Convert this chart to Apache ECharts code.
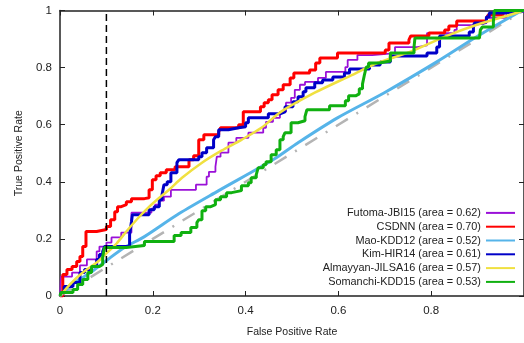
<!DOCTYPE html>
<html><head><meta charset="utf-8">
<script src="https://cdn.jsdelivr.net/npm/echarts@6/dist/echarts.min.js"></script>
<style>html,body{margin:0;padding:0;background:#fff}#c{width:524px;height:343px}</style>
</head><body><div id="c"></div>
<script>
// Futoma-JBI15 (purple) step risers
const futomaFpr = [0, 0.002, 0.026, 0.043, 0.058, 0.079, 0.085, 0.100, 0.111, 0.132, 0.154, 0.197, 0.205, 0.214, 0.224, 0.239, 0.293, 0.316, 0.321, 0.335, 0.338, 0.346, 0.363, 0.380, 0.406, 0.438, 0.444, 0.459, 0.474, 0.487, 0.498, 0.506, 0.517, 0.528, 0.556, 0.573, 0.615, 0.620, 0.641, 0.673, 0.722, 0.770, 0.791, 0.850, 0.855, 0.891, 0.919, 0.962, 1];
const futomaTpr = [0, 0.068, 0.082, 0.107, 0.128, 0.156, 0.173, 0.187, 0.205, 0.222, 0.292, 0.306, 0.320, 0.334, 0.348, 0.372, 0.390, 0.418, 0.435, 0.453, 0.488, 0.502, 0.537, 0.554, 0.572, 0.589, 0.610, 0.624, 0.645, 0.677, 0.694, 0.722, 0.740, 0.750, 0.764, 0.785, 0.802, 0.827, 0.844, 0.851, 0.872, 0.878, 0.921, 0.932, 0.949, 0.956, 0.974, 0.995, 1];
// CSDNN (red)
const csdnnFpr = [0, 0.006, 0.015, 0.026, 0.036, 0.043, 0.049, 0.056, 0.079, 0.100, 0.109, 0.118, 0.124, 0.132, 0.143, 0.154, 0.182, 0.192, 0.199, 0.207, 0.216, 0.229, 0.248, 0.278, 0.288, 0.299, 0.310, 0.342, 0.346, 0.385, 0.395, 0.432, 0.440, 0.449, 0.457, 0.470, 0.481, 0.496, 0.504, 0.538, 0.551, 0.560, 0.598, 0.701, 0.709, 0.752, 0.756, 0.795, 0.829, 0.838, 0.855, 0.919, 0.923, 0.955, 0.962, 1];
const csdnnTpr = [0, 0.075, 0.093, 0.103, 0.121, 0.138, 0.173, 0.226, 0.233, 0.243, 0.267, 0.295, 0.313, 0.320, 0.330, 0.341, 0.344, 0.372, 0.407, 0.421, 0.432, 0.442, 0.453, 0.477, 0.491, 0.547, 0.565, 0.575, 0.589, 0.600, 0.645, 0.663, 0.677, 0.687, 0.705, 0.722, 0.740, 0.764, 0.781, 0.792, 0.816, 0.834, 0.851, 0.862, 0.886, 0.897, 0.911, 0.921, 0.932, 0.946, 0.963, 0.974, 0.984, 0.995, 1, 1];
// Mao-KDD12 (light blue)
const maoFpr = [0, 0.032, 0.066, 0.103, 0.139, 0.182, 0.256, 0.342, 0.459, 0.513, 0.598, 0.699, 0.812, 0.897, 0.989, 1];
const maoTpr = [0, 0.047, 0.082, 0.128, 0.170, 0.208, 0.288, 0.369, 0.477, 0.537, 0.624, 0.712, 0.820, 0.907, 0.994, 1];
// Kim-HIR14 (dark blue)
const kimFpr = [0, 0.004, 0.009, 0.028, 0.043, 0.053, 0.068, 0.079, 0.085, 0.092, 0.096, 0.150, 0.154, 0.156, 0.192, 0.203, 0.214, 0.220, 0.224, 0.231, 0.239, 0.252, 0.256, 0.299, 0.306, 0.316, 0.331, 0.335, 0.342, 0.363, 0.385, 0.400, 0.406, 0.449, 0.474, 0.485, 0.502, 0.513, 0.524, 0.530, 0.549, 0.566, 0.588, 0.613, 0.624, 0.667, 0.690, 0.712, 0.791, 0.812, 0.818, 0.882, 0.891, 0.893, 0.912, 0.919, 0.925, 0.955, 1];
const kimTpr = [0, 0.012, 0.033, 0.047, 0.082, 0.093, 0.103, 0.128, 0.145, 0.156, 0.173, 0.215, 0.260, 0.285, 0.302, 0.313, 0.337, 0.355, 0.390, 0.400, 0.432, 0.467, 0.477, 0.488, 0.502, 0.519, 0.547, 0.558, 0.582, 0.589, 0.593, 0.607, 0.624, 0.638, 0.645, 0.663, 0.680, 0.698, 0.715, 0.729, 0.747, 0.757, 0.767, 0.781, 0.795, 0.809, 0.820, 0.841, 0.851, 0.872, 0.911, 0.925, 0.942, 0.956, 0.960, 0.977, 0.991, 0.998, 1];
// Almayyan-JILSA16 (yellow, smooth)
const almFpr = [0, 0.021, 0.049, 0.079, 0.100, 0.122, 0.143, 0.165, 0.188, 0.209, 0.235, 0.263, 0.306, 0.348, 0.391, 0.434, 0.476, 0.549, 0.620, 0.684, 0.754, 0.827, 0.897, 0.983, 1];
const almTpr = [0, 0.040, 0.082, 0.117, 0.149, 0.184, 0.226, 0.267, 0.306, 0.337, 0.372, 0.414, 0.467, 0.509, 0.547, 0.589, 0.645, 0.712, 0.767, 0.816, 0.855, 0.907, 0.949, 0.991, 1];
// Somanchi-KDD15 (green)
const somFpr = [0, 0.002, 0.028, 0.038, 0.049, 0.060, 0.068, 0.085, 0.092, 0.096, 0.143, 0.182, 0.246, 0.261, 0.282, 0.295, 0.299, 0.306, 0.314, 0.325, 0.335, 0.346, 0.359, 0.370, 0.391, 0.406, 0.412, 0.423, 0.427, 0.438, 0.444, 0.455, 0.466, 0.474, 0.481, 0.485, 0.498, 0.513, 0.528, 0.532, 0.581, 0.615, 0.622, 0.637, 0.645, 0.652, 0.656, 0.660, 0.665, 0.688, 0.712, 0.763, 0.765, 0.904, 0.906, 0.910, 0.934, 0.936, 1];
const somTpr = [0, 0.012, 0.023, 0.040, 0.058, 0.082, 0.103, 0.110, 0.138, 0.170, 0.177, 0.191, 0.212, 0.222, 0.240, 0.257, 0.267, 0.299, 0.313, 0.320, 0.337, 0.348, 0.362, 0.369, 0.386, 0.397, 0.414, 0.425, 0.449, 0.460, 0.470, 0.495, 0.512, 0.547, 0.558, 0.572, 0.607, 0.614, 0.628, 0.652, 0.666, 0.684, 0.701, 0.708, 0.726, 0.743, 0.774, 0.802, 0.816, 0.823, 0.851, 0.872, 0.904, 0.907, 0.932, 0.942, 0.960, 1, 1];
// chance diagonal and threshold line
const diagFpr = [0, 1];
const diagTpr = [0, 1];
const threshFpr = [0.1, 0.1];
const threshTpr = [0, 0.99];
const legendNames = ['Futoma-JBI15 (area = 0.62)', 'CSDNN (area = 0.70)', 'Mao-KDD12 (area = 0.52)', 'Kim-HIR14 (area = 0.61)', 'Almayyan-JILSA16 (area = 0.57)', 'Somanchi-KDD15 (area = 0.53)'];

const zip = (a, b) => a.map((v, i) => [v, b[i]]);
const FONT = 'Liberation Sans';
const chart = echarts.init(document.getElementById('c'), null, {renderer: 'canvas'});

function axisCommon(extra) {
  return Object.assign({
    type: 'value', min: 0, max: 1, interval: 0.2,
    axisLine: {show: true, onZero: false, lineStyle: {color: '#222', width: 1.5}},
    axisTick: {show: true, inside: true, length: 5, lineStyle: {color: '#222', width: 1}},
    splitLine: {show: false},
    axisLabel: {show: true, color: '#222', fontFamily: FONT, fontSize: 11.5},
  }, extra);
}

function stepSeries(name, xs, ys, color, width, z) {
  return {
    name, type: 'line', data: zip(xs, ys), step: 'end', showSymbol: false, symbol: 'none',
    lineStyle: {color, width}, itemStyle: {color}, z, silent: true, animation: false, clip: true
  };
}

chart.setOption({
  animation: false,
  grid: {left: 60, top: 10.5, width: 468, height: 286, containLabel: false},
  xAxis: [
    axisCommon({position: 'bottom', name: 'False Positive Rate', nameLocation: 'middle', nameGap: 31,
      nameTextStyle: {color: '#222', fontFamily: FONT, fontSize: 10.5},
      axisLabel: {show: true, color: '#222', fontFamily: FONT, fontSize: 11.5, margin: 9, showMaxLabel: false}}),
    axisCommon({position: 'top', axisLabel: {show: false}})
  ],
  yAxis: [
    axisCommon({position: 'left', name: 'True Positive Rate', nameLocation: 'middle', nameGap: 35,
      nameTextStyle: {color: '#222', fontFamily: FONT, fontSize: 10.5},
      axisLabel: {show: true, color: '#222', fontFamily: FONT, fontSize: 11.5, margin: 8}}),
    axisCommon({position: 'right', axisLabel: {show: false}})
  ],
  legend: {
    orient: 'vertical', right: 8, top: 206, align: 'right', itemWidth: 29, itemHeight: 8, itemGap: 0,
    data: legendNames, textStyle: {color: '#222', fontFamily: FONT, fontSize: 10.9, lineHeight: 13.8},
    itemStyle: {opacity: 0},
    selectedMode: false, padding: 0
  },
  series: [
    {name: 'chance', type: 'line', data: zip(diagFpr, diagTpr), showSymbol: false, symbol: 'none',
      lineStyle: {color: '#b4b4b4', width: 2.5, type: [14, 10, 2, 10]}, z: 1, silent: true},
    stepSeries(legendNames[0], futomaFpr, futomaTpr, '#9a10d8', 1.8, 2),
    stepSeries(legendNames[1], csdnnFpr, csdnnTpr, '#ff0000', 3, 3),
    {name: legendNames[2], type: 'line', data: zip(maoFpr, maoTpr), showSymbol: false, symbol: 'none', smooth: 0.3,
      lineStyle: {color: '#56b4e9', width: 3}, itemStyle: {color: '#56b4e9'}, z: 4, silent: true},
    stepSeries(legendNames[3], kimFpr, kimTpr, '#0000c8', 3, 5),
    {name: legendNames[4], type: 'line', data: zip(almFpr, almTpr), showSymbol: false, symbol: 'none', smooth: 0.3,
      lineStyle: {color: '#f0e040', width: 2.5}, itemStyle: {color: '#f0e040'}, z: 6, silent: true},
    stepSeries(legendNames[5], somFpr, somTpr, '#10b010', 3, 7),
    {name: 'threshold', type: 'line', data: zip(threshFpr, threshTpr), showSymbol: false, symbol: 'none',
      lineStyle: {color: '#000', width: 1.5, type: [7, 4]}, z: 8, silent: true}
  ]
});
</script></body></html>
